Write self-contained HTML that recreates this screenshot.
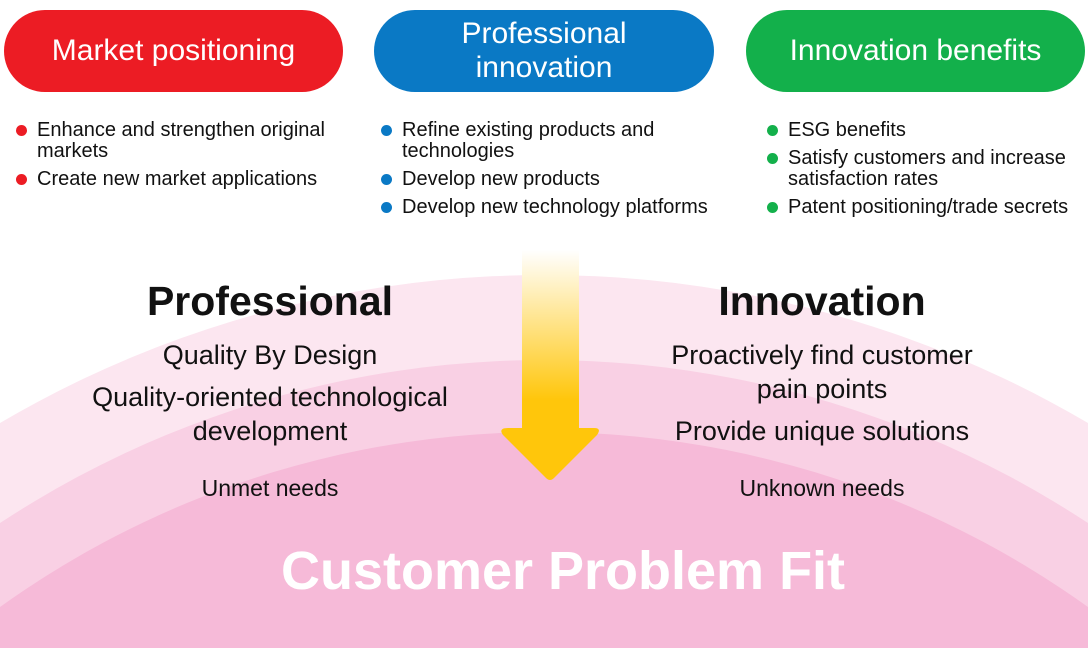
<!DOCTYPE html>
<html style="overflow:hidden"><head><meta charset="utf-8"><style>
html,body{margin:0;width:1088px;height:648px;overflow:hidden}
body{background:#fff;font-family:"Liberation Sans",sans-serif;position:relative}
.p{position:absolute;top:10px;height:82px;border-radius:41px;color:#fff;font-size:30px;display:flex;align-items:center;justify-content:center;text-align:center;line-height:34px}
.t{position:absolute;white-space:nowrap;font-size:20px;color:#111;line-height:22px}
.d{position:absolute;width:11px;height:11px;border-radius:50%}
.c{position:absolute;white-space:nowrap;transform:translateX(-50%);color:#111;line-height:1.15}
</style></head><body>
<svg width="1088" height="648" style="position:absolute;left:0;top:0">
<defs><linearGradient id="g" x1="0" y1="250" x2="0" y2="400" gradientUnits="userSpaceOnUse"><stop offset="0" stop-color="#fff"/><stop offset="1" stop-color="#ffc60b"/></linearGradient></defs>
<circle cx="544" cy="1349" r="1074" fill="#fce6f0"/>
<circle cx="544" cy="1349" r="989" fill="#f9d0e4"/>
<circle cx="544" cy="1365" r="933" fill="#f6bad8"/>
<rect x="522" y="250" width="57" height="182" fill="url(#g)"/>
<path d="M508 428 L594 428 Q602 428 597 435 L554 478 Q550 482 546 478 L503 435 Q498 428 508 428Z" fill="#ffc60b"/>
</svg>
<div class="p" style="left:4px;width:339px;background:#ec1c24">Market positioning</div>
<div class="p" style="left:374px;width:340px;background:#0a79c5">Professional<br>innovation</div>
<div class="p" style="left:746px;width:339px;background:#13b04b">Innovation benefits</div>

<div class="d" style="left:16px;top:125px;background:#ec1c24"></div>
<div class="t" style="left:37px;top:119px">Enhance and strengthen original</div>
<div class="t" style="left:37px;top:140px">markets</div>
<div class="d" style="left:16px;top:174px;background:#ec1c24"></div>
<div class="t" style="left:37px;top:168px">Create new market applications</div>

<div class="d" style="left:381px;top:125px;background:#0a79c5"></div>
<div class="t" style="left:402px;top:119px">Refine existing products and</div>
<div class="t" style="left:402px;top:140px">technologies</div>
<div class="d" style="left:381px;top:174px;background:#0a79c5"></div>
<div class="t" style="left:402px;top:168px">Develop new products</div>
<div class="d" style="left:381px;top:202px;background:#0a79c5"></div>
<div class="t" style="left:402px;top:196px">Develop new technology platforms</div>

<div class="d" style="left:767px;top:125px;background:#13b04b"></div>
<div class="t" style="left:788px;top:119px">ESG benefits</div>
<div class="d" style="left:767px;top:153px;background:#13b04b"></div>
<div class="t" style="left:788px;top:147px">Satisfy customers and increase</div>
<div class="t" style="left:788px;top:168px">satisfaction rates</div>
<div class="d" style="left:767px;top:202px;background:#13b04b"></div>
<div class="t" style="left:788px;top:196px">Patent positioning/trade secrets</div>

<div class="c" style="left:270px;top:278px;font-size:41px;font-weight:bold">Professional</div>
<div class="c" style="left:822px;top:278px;font-size:41px;font-weight:bold">Innovation</div>
<div class="c" style="left:270px;top:340px;font-size:27px">Quality By Design</div>
<div class="c" style="left:270px;top:382px;font-size:27px">Quality-oriented technological</div>
<div class="c" style="left:270px;top:416px;font-size:27px">development</div>
<div class="c" style="left:270px;top:475px;font-size:23px">Unmet needs</div>
<div class="c" style="left:822px;top:340px;font-size:27px">Proactively find customer</div>
<div class="c" style="left:822px;top:374px;font-size:27px">pain points</div>
<div class="c" style="left:822px;top:416px;font-size:27px">Provide unique solutions</div>
<div class="c" style="left:822px;top:475px;font-size:23px">Unknown needs</div>
<div class="c" style="left:563px;top:540px;font-size:54px;font-weight:bold;color:#fff">Customer Problem Fit</div>
</body></html>
